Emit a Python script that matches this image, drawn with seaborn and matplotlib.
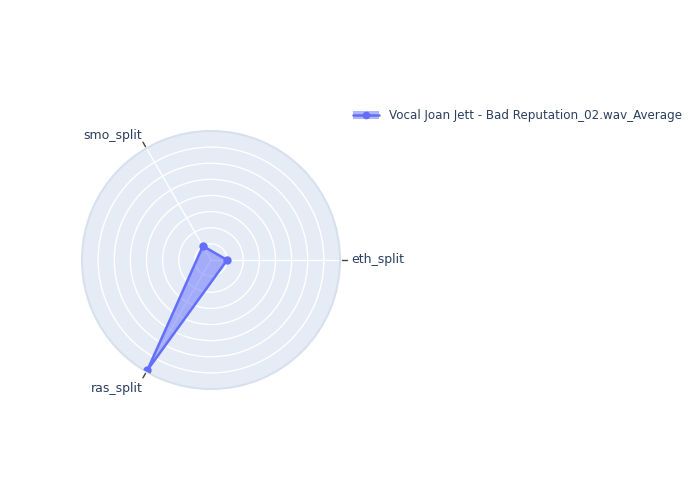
import numpy as np
import matplotlib
matplotlib.use("Agg")
import matplotlib.pyplot as plt
import seaborn as sns
from matplotlib.lines import Line2D
from matplotlib.patches import Patch

categories = ["eth_split", "smo_split", "ras_split"]
values = [1.0, 1.0, 7.9]
series_name = "Vocal Joan Jett - Bad Reputation_02.wav_Average"
angles_deg = [0, 120, 240]

sns.set_theme(style="white")
plt.rcParams['font.family'] = ['DejaVu Sans']

LINE = "#636efa"
TXT = "#2a3f5f"
RMAX = 8

fig = plt.figure(figsize=(7, 5), dpi=100)
ax = fig.add_axes([0.1171, 0.222, 0.3686, 0.516], projection="polar")
ax.set_facecolor("#E5ECF6")

theta = np.deg2rad(angles_deg)
th_closed = np.append(theta, theta[0])
v_closed = np.append(values, values[0])
ax.fill(th_closed, v_closed, color=LINE, alpha=0.5, linewidth=0, zorder=3)
ax.plot(th_closed, v_closed, color=LINE, linewidth=1.8, zorder=4)
ax.plot(theta, values, "o", color=LINE, markersize=5, zorder=5)

ax.set_ylim(0, RMAX)
ax.set_yticks(range(1, RMAX + 1))
ax.set_yticklabels([])
ax.set_xticks(theta)
ax.set_xticklabels([])
ax.grid(True, color="white", linewidth=1)
ax.spines["polar"].set_color("#d8e0ee")
ax.spines["polar"].set_linewidth(1.5)

# angular tick marks
for t in theta:
    ax.plot([t, t], [RMAX * 1.015, RMAX * 1.055], color="#444444", linewidth=1,
            clip_on=False, zorder=6)

# category labels
offsets = [((11, 0), "left"), ((-4, 13), "right"), ((-4, -17), "right")]
for t, lab, (off, ha) in zip(theta, categories, offsets):
    ax.annotate(lab, xy=(t, RMAX), xytext=off, textcoords="offset pixels",
                ha=ha, va="center", color=TXT, fontsize=9, annotation_clip=False)

# legend
h = (Patch(facecolor=LINE, alpha=0.5, edgecolor="none"),
     Line2D([0], [0], color=LINE, marker="o", markersize=4.5, linewidth=1.8))
fig.legend([h], [series_name], loc="upper left", bbox_to_anchor=(0.489, 0.803),
           frameon=False, fontsize=8.6, labelcolor=TXT, handlelength=2.2,
           handletextpad=0.8)

fig.savefig("out.png", dpi=100)
